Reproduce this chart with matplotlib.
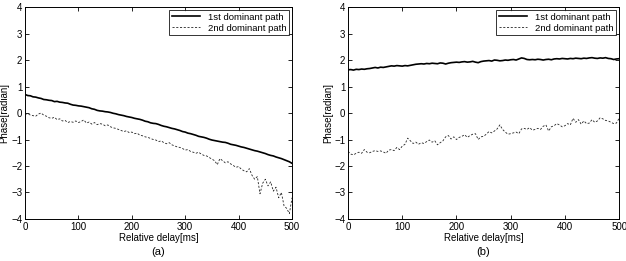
import matplotlib
matplotlib.use('Agg')
import matplotlib.pyplot as plt

plt.rcParams['font.family'] = ['Liberation Sans', 'DejaVu Sans']

# relative delay grid [ms]
delay = list(range(0, 501, 5))

# (a) phase of dominant paths
a_first = [0.70, 0.66, 0.65, 0.61, 0.60, 0.57, 0.55, 0.51, 0.50, 0.48,
           0.47, 0.43, 0.44, 0.41, 0.40, 0.38, 0.37, 0.33, 0.30, 0.29,
           0.27, 0.26, 0.24, 0.22, 0.20, 0.16, 0.14, 0.10, 0.08, 0.07,
           0.05, 0.04, 0.02, -0.01, -0.03, -0.06, -0.08, -0.10, -0.13, -0.15,
           -0.17, -0.20, -0.22, -0.24, -0.27, -0.31, -0.33, -0.37, -0.39, -0.40,
           -0.43, -0.47, -0.50, -0.52, -0.55, -0.58, -0.60, -0.63, -0.66, -0.70,
           -0.72, -0.76, -0.78, -0.81, -0.84, -0.88, -0.90, -0.92, -0.95, -0.99,
           -1.02, -1.04, -1.06, -1.08, -1.10, -1.11, -1.14, -1.18, -1.20, -1.22,
           -1.25, -1.28, -1.30, -1.33, -1.36, -1.39, -1.42, -1.44, -1.47, -1.50,
           -1.53, -1.57, -1.60, -1.62, -1.66, -1.69, -1.72, -1.76, -1.80, -1.84,
           -1.90]
a_second = [-0.05, -0.02, -0.08, -0.10, -0.12, -0.04, 0.00, -0.08, -0.12, -0.18,
            -0.20, -0.16, -0.25, -0.22, -0.30, -0.28, -0.36, -0.32, -0.35, -0.30,
            -0.36, -0.32, -0.26, -0.38, -0.34, -0.42, -0.36, -0.44, -0.40, -0.42,
            -0.48, -0.45, -0.52, -0.56, -0.58, -0.62, -0.66, -0.70, -0.67, -0.74,
            -0.72, -0.78, -0.76, -0.84, -0.86, -0.90, -0.92, -0.96, -1.00, -1.02,
            -1.08, -1.05, -1.12, -1.16, -1.12, -1.20, -1.24, -1.28, -1.30, -1.34,
            -1.40, -1.38, -1.45, -1.48, -1.52, -1.48, -1.55, -1.60, -1.62, -1.68,
            -1.74, -1.80, -1.95, -1.72, -1.80, -1.88, -1.84, -1.92, -1.98, -2.05,
            -2.02, -2.12, -2.18, -2.22, -2.10, -2.35, -2.50, -2.40, -3.05, -2.65,
            -2.50, -2.75, -2.60, -2.95, -2.80, -3.20, -3.00, -3.50, -3.60, -3.80,
            -3.20]

# (b) phase of dominant paths
b_first = [1.63, 1.64, 1.62, 1.65, 1.64, 1.66, 1.65, 1.67, 1.68, 1.70,
           1.72, 1.70, 1.73, 1.72, 1.74, 1.76, 1.78, 1.77, 1.79, 1.78,
           1.77, 1.79, 1.78, 1.80, 1.82, 1.84, 1.85, 1.86, 1.85, 1.87,
           1.86, 1.88, 1.87, 1.86, 1.89, 1.88, 1.85, 1.88, 1.90, 1.91,
           1.92, 1.91, 1.93, 1.94, 1.92, 1.93, 1.95, 1.92, 1.90, 1.94,
           1.96, 1.97, 1.98, 1.96, 2.00, 1.99, 1.97, 1.98, 2.00, 1.99,
           2.01, 2.02, 2.00, 2.04, 2.08, 2.06, 2.02, 2.01, 2.02, 2.01,
           2.03, 2.02, 2.00, 2.02, 2.03, 2.01, 2.04, 2.05, 2.04, 2.06,
           2.05, 2.04, 2.06, 2.05, 2.07, 2.06, 2.05, 2.07, 2.06, 2.08,
           2.09, 2.07, 2.06, 2.08, 2.07, 2.09, 2.06, 2.05, 2.02, 2.04,
           2.05]
b_second = [-1.45, -1.55, -1.58, -1.52, -1.48, -1.52, -1.38, -1.48, -1.50, -1.45,
            -1.42, -1.45, -1.43, -1.47, -1.52, -1.40, -1.38, -1.42, -1.30, -1.38,
            -1.25, -1.18, -0.95, -1.05, -1.15, -1.10, -1.18, -1.12, -1.15, -1.08,
            -1.02, -1.10, -1.05, -1.20, -1.12, -1.05, -0.90, -0.85, -0.98, -0.90,
            -1.00, -0.92, -0.88, -0.82, -0.92, -0.85, -0.80, -0.78, -1.00, -0.90,
            -0.88, -0.80, -0.70, -0.75, -0.68, -0.60, -0.45, -0.62, -0.72, -0.80,
            -0.78, -0.75, -0.72, -0.78, -0.60, -0.58, -0.62, -0.55, -0.65, -0.62,
            -0.58, -0.62, -0.50, -0.45, -0.68, -0.52, -0.48, -0.40, -0.45, -0.52,
            -0.48, -0.40, -0.45, -0.20, -0.35, -0.25, -0.42, -0.30, -0.40, -0.38,
            -0.25, -0.35, -0.30, -0.18, -0.22, -0.28, -0.30, -0.35, -0.40, -0.38,
            -0.20]

fig = plt.figure(figsize=(6.26, 2.61), dpi=100)
ax_a = fig.add_axes([0.040, 0.161, 0.4265, 0.812])
ax_b = fig.add_axes([0.556, 0.161, 0.433, 0.812])

for ax, first, second, tag in [(ax_a, a_first, a_second, '(a)'),
                               (ax_b, b_first, b_second, '(b)')]:
    ax.plot(delay, first, color='black', lw=1.2, label='1st dominant path')
    ax.plot(delay, second, color='#222222', lw=0.6, dashes=(2.5, 2),
            label='2nd dominant path')
    ax.set_xlim(0, 500)
    ax.set_ylim(-4, 4)
    ax.set_xticks(range(0, 501, 100))
    ax.set_yticks(range(-4, 5))
    ax.tick_params(direction='in', length=3, width=0.6, labelsize=7,
                   top=True, right=True, pad=2)
    for s in ax.spines.values():
        s.set_linewidth(0.7)
    ax.set_xlabel('Relative delay[ms]', fontsize=7, labelpad=1)
    ax.set_ylabel('Phase[radian]', fontsize=7, labelpad=1)
    leg = ax.legend(loc='upper right', fontsize=6.8, frameon=True,
                    fancybox=False, edgecolor='black', borderaxespad=0.3,
                    handlelength=3.0, borderpad=0.3, labelspacing=0.2)
    leg.get_frame().set_linewidth(0.7)
    ax.text(0.5, -0.13, tag, transform=ax.transAxes, ha='center',
            va='top', fontsize=8)

fig.savefig('out.png', dpi=100)
